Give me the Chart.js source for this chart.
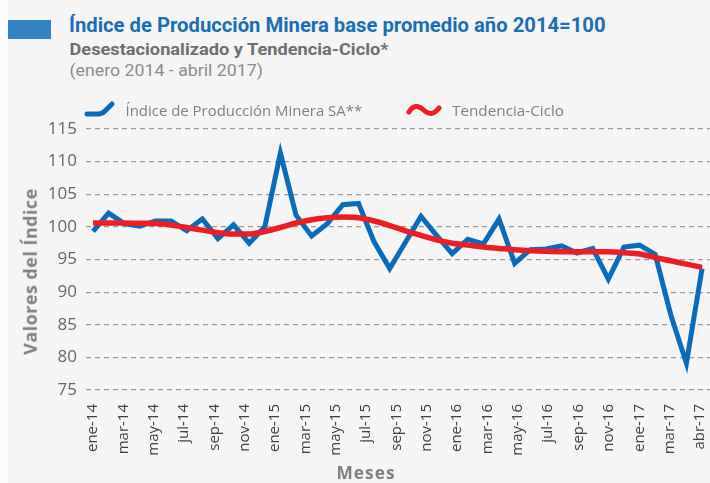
<!DOCTYPE html>
<html lang="es">
<head>
<meta charset="utf-8">
<script src="https://cdn.jsdelivr.net/npm/chart.js@4/dist/chart.umd.min.js"></script>
<style>
  html, body { margin: 0; padding: 0; background: #fbfbfb; }
  #wrap { position: relative; width: 710px; height: 483px; overflow: hidden; }
  #panel { position: absolute; left: 8px; top: 0; width: 702px; height: 483px; background: #f5f5f5; }
  #bar { position: absolute; left: 8px; top: 20px; width: 43px; height: 19px; background: #3283c5; }
  #c { position: absolute; left: 0; top: 0; }
  .t { position: absolute; white-space: nowrap; left: 0; top: 0; }
  #title { font: bold 21px/21px Roboto, "Noto Sans", sans-serif; color: #1a6db6; }
  #sub { font: bold 17px/17px Roboto, "Noto Sans", sans-serif; color: #6e6e6e; }
  #date { font: 16px/16px Roboto, "Noto Sans", sans-serif; color: #8c8c8c; }
  .leg { font: 15px/15px "Open Sans", "Noto Sans", sans-serif; color: #808080; }
  #ytitle { font: bold 17px/17px "Open Sans", "Noto Sans", sans-serif; color: #7f7f7f; letter-spacing: 0.5px; }
  #xtitle { font: bold 17px/17px "Open Sans", "Noto Sans", sans-serif; color: #7f7f7f; letter-spacing: 1px; }
  svg.icon { position: absolute; }
</style>
</head>
<body>
<div id="wrap">
  <div id="panel"></div>
  <div id="bar"></div>
  <div class="t" id="title">Índice de Producción Minera base promedio año 2014=100</div>
  <div class="t" id="sub">Desestacionalizado y Tendencia-Ciclo*</div>
  <div class="t" id="date">(enero 2014 - abril 2017)</div>
  <canvas id="c" width="710" height="483"></canvas>
  <div class="t" id="ytitle">Valores del Índice</div>
  <div class="t" id="xtitle">Meses</div>
  <div id="legend"></div>
</div>
<script>
// ---- Data ----
const months = ["ene-14","feb-14","mar-14","abr-14","may-14","jun-14","jul-14","ago-14","sep-14","oct-14","nov-14","dic-14",
                "ene-15","feb-15","mar-15","abr-15","may-15","jun-15","jul-15","ago-15","sep-15","oct-15","nov-15","dic-15",
                "ene-16","feb-16","mar-16","abr-16","may-16","jun-16","jul-16","ago-16","sep-16","oct-16","nov-16","dic-16",
                "ene-17","feb-17","mar-17","abr-17"];

const indiceSA = [99.3, 102.1, 100.5, 100.1, 100.9, 100.9, 99.4, 101.2, 98.2, 100.3, 97.5, 100.0,
                  111.3, 101.8, 98.6, 100.5, 103.4, 103.6, 97.7, 93.6, 97.6, 101.6, 98.7, 95.9,
                  98.1, 97.4, 101.2, 94.4, 96.5, 96.6, 97.1, 96.0, 96.7, 92.0, 96.9, 97.2,
                  95.8, 86.5, 79.1, 93.6];

const tendencia = [100.6, 100.6, 100.6, 100.55, 100.5, 100.3, 99.9, 99.5, 99.1, 98.9, 98.9, 99.3,
                   99.9, 100.6, 101.1, 101.4, 101.5, 101.4, 100.9, 100.2, 99.4, 98.7, 98.0, 97.5,
                   97.2, 96.9, 96.7, 96.5, 96.35, 96.25, 96.2, 96.2, 96.2, 96.2, 96.05, 95.85,
                   95.3, 94.8, 94.3, 93.8];

const tickLabels = ["ene-14","mar-14","may-14","jul-14","sep-14","nov-14","ene-15","mar-15","may-15","jul-15",
                    "sep-15","nov-15","ene-16","mar-16","may-16","jul-16","sep-16","nov-16","ene-17","mar-17","abr-17"];

const seriesNames = ["Índice de Producción Minera SA**", "Tendencia-Ciclo"];
const yTicks = { min: 75, max: 115, step: 5 };

// ---- Chart ----
const toPoints = vals => vals.map((v, i) => ({ x: i, y: v, m: months[i] }));

const noPad = s => { s.paddingLeft = 0; s.paddingRight = 0; s.paddingTop = 0; s.paddingBottom = 0; };

const chart = new Chart(document.getElementById('c'), {
  type: 'line',
  data: {
    datasets: [
      { label: seriesNames[0], data: toPoints(indiceSA), xAxisID: 'xd', yAxisID: 'y',
        borderColor: '#0a6cb8', borderWidth: 5, pointRadius: 0, tension: 0, order: 1,
        borderJoinStyle: 'miter', borderCapStyle: 'butt' },
      { label: seriesNames[1], data: toPoints(tendencia), xAxisID: 'xd', yAxisID: 'y',
        borderColor: '#ee1c25', borderWidth: 5.5, pointRadius: 0, cubicInterpolationMode: 'monotone', order: 0,
        borderCapStyle: 'butt' }
    ]
  },
  options: {
    responsive: false, animation: false, events: [],
    layout: { padding: { top: 129, left: 0, right: 0, bottom: 0 } },
    plugins: { legend: { display: false }, tooltip: { enabled: false }, title: { display: false } },
    scales: {
      x: {
        type: 'linear', position: 'bottom', min: -0.23, max: 20.33,
        grid: { display: false, drawTicks: false }, border: { display: false },
        ticks: { stepSize: 1, includeBounds: false, autoSkip: false, minRotation: 90, maxRotation: 90,
                 padding: 14, color: '#404040', font: { family: 'Open Sans', size: 15, lineHeight: 1 },
                 callback: v => (Number.isInteger(v) && tickLabels[v] !== undefined) ? tickLabels[v] : '' },
        afterFit: s => { s.height = 93; noPad(s); }
      },
      xd: { type: 'linear', display: false, min: -0.45, max: 39.51, afterFit: noPad },
      y: {
        min: yTicks.min, max: yTicks.max,
        ticks: { stepSize: yTicks.step, padding: 9, color: '#666666', font: { family: 'Open Sans', size: 17 } },
        grid: { color: '#9b9b9b', lineWidth: 1.2, drawTicks: false },
        border: { display: false, dash: [5, 4] },
        afterFit: s => { s.width = 86; noPad(s); }
      }
    }
  }
});

// ---- HTML text placement ----
function place(el, o) {
  const w0 = el.offsetWidth, h0 = el.offsetHeight;
  const s = o.w ? o.w / w0 : 1;
  const cx = (o.cx !== undefined) ? o.cx : o.x0 + (o.w || w0) / 2;
  el.style.left = (cx - w0 / 2) + 'px';
  el.style.top = (o.cy - h0 / 2) + 'px';
  el.style.transformOrigin = '50% 50%';
  el.style.transform = 'rotate(' + (o.rot || 0) + 'deg) scaleX(' + s + ')';
}

// legend from datasets
const legend = document.getElementById('legend');
const legPos = [{ icon: 84, text: 125, w: 237 }, { icon: 405, text: 452, w: 112 }];
const iconPaths = [
  'M3 14 L14 14 Q18 14 21 11 L28 4',
  'M4 12 C8 5, 13 5, 18 9.5 S 28 16, 34 8'
];
chart.data.datasets.forEach((d, i) => {
  const svgNS = 'http://www.w3.org/2000/svg';
  const svg = document.createElementNS(svgNS, 'svg');
  svg.setAttribute('class', 'icon');
  svg.setAttribute('width', '40'); svg.setAttribute('height', '20');
  svg.style.left = legPos[i].icon + 'px'; svg.style.top = '100px';
  const p = document.createElementNS(svgNS, 'path');
  p.setAttribute('d', iconPaths[i]);
  p.setAttribute('fill', 'none');
  p.setAttribute('stroke', d.borderColor);
  p.setAttribute('stroke-width', '5');
  p.setAttribute('stroke-linecap', 'round');
  p.setAttribute('stroke-linejoin', 'round');
  svg.appendChild(p);
  legend.appendChild(svg);
  const t = document.createElement('div');
  t.className = 't leg';
  t.textContent = d.label;
  legend.appendChild(t);
  place(t, { x0: legPos[i].text, cy: 110.7, w: legPos[i].w });
});

place(document.getElementById('title'), { x0: 69, cy: 25.9, w: 537 });
place(document.getElementById('sub'), { x0: 69, cy: 49.2, w: 319 });
place(document.getElementById('date'), { x0: 69, cy: 70.6, w: 193 });
place(document.getElementById('ytitle'), { cx: 30, cy: 271.5, w: 167, rot: -90 });
place(document.getElementById('xtitle'), { cx: 365.5, cy: 472.4, w: 59 });
</script>
</body>
</html>
